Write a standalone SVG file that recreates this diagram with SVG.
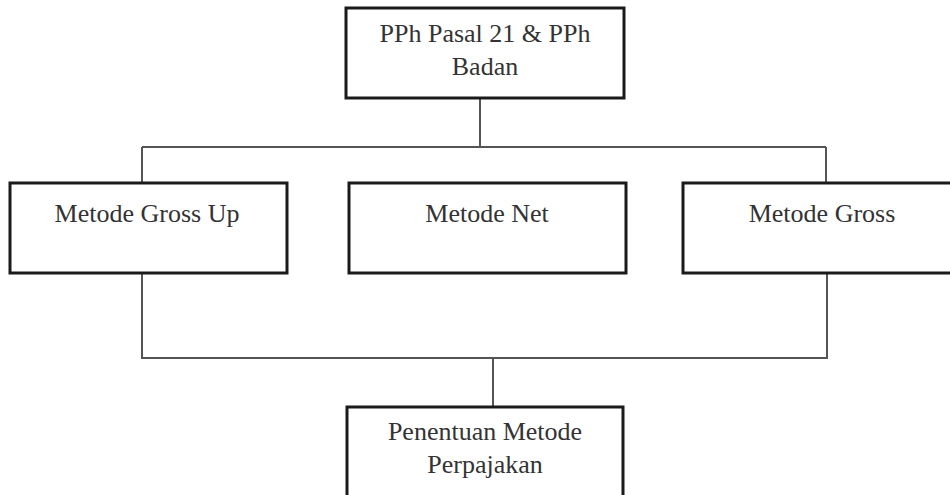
<svg xmlns="http://www.w3.org/2000/svg" width="950" height="495" viewBox="0 0 950 495">
<style>
.box{fill:#fff;stroke:#1a1a1a;stroke-width:3}
.con{fill:none;stroke:#555;stroke-width:2}
.t{font-family:"Liberation Serif","Times New Roman",serif;font-size:26px;fill:#333;text-anchor:middle}
</style>
<rect width="950" height="495" fill="#fff"/>
<g id="connectors">
<path class="con" d="M480 98 V147 M142 147 H826 M142 147 V183 M826 147 V183"/>
<path class="con" d="M142 273 V358 H827 V273 M493 358 V407"/>
</g>
<g id="node-top">
<rect class="box" x="346" y="8" width="278" height="90"/>
<text class="t" x="485" y="42">PPh Pasal 21 &amp; PPh</text>
<text class="t" x="485" y="75">Badan</text>
</g>
<g id="node-grossup">
<rect class="box" x="10" y="183" width="277" height="90"/>
<text class="t" x="147" y="222">Metode Gross Up</text>
</g>
<g id="node-net">
<rect class="box" x="349" y="183" width="277" height="90"/>
<text class="t" x="487" y="222">Metode Net</text>
</g>
<g id="node-gross">
<rect class="box" x="683" y="183" width="280" height="90"/>
<text class="t" x="822" y="222">Metode Gross</text>
</g>
<g id="node-bottom">
<rect class="box" x="347" y="407" width="276" height="100"/>
<text class="t" x="485" y="440">Penentuan Metode</text>
<text class="t" x="485" y="473">Perpajakan</text>
</g>
</svg>
